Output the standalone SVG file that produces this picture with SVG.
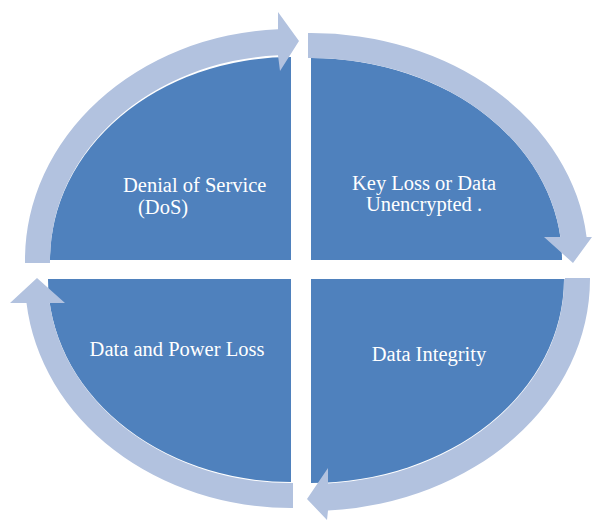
<svg xmlns="http://www.w3.org/2000/svg" width="592" height="522" viewBox="0 0 592 522">
<style>
.q{fill:#4F81BD}
.a{fill:#B2C2DF}
.t{fill:#FFFFFF;font-size:20.5px}
</style>
<rect width="592" height="522" fill="#FFFFFF"/>
<g id="node-dos">
<path class="q" d="M291,260 L50,260 A241 203 0 0 1 291,57 Z"/>
<text class="t" font-family="'Liberation Serif', 'DejaVu Serif', serif" x="123" y="192">Denial of Service</text>
<text class="t" font-family="'Liberation Serif', 'DejaVu Serif', serif" x="138" y="214">(DoS)</text>
</g>
<g id="node-keyloss">
<path class="q" d="M311,260 L311,58 A251 202 0 0 1 562,260 Z"/>
<text class="t" font-family="'Liberation Serif', 'DejaVu Serif', serif" x="424" y="190" text-anchor="middle">Key Loss or Data</text>
<text class="t" font-family="'Liberation Serif', 'DejaVu Serif', serif" x="424" y="211" text-anchor="middle">Unencrypted .</text>
</g>
<g id="node-integrity">
<path class="q" d="M311,279 L564,279 A253 204 0 0 1 311,483 Z"/>
<text class="t" font-family="'Liberation Serif', 'DejaVu Serif', serif" x="429" y="361" text-anchor="middle">Data Integrity</text>
</g>
<g id="node-power">
<path class="q" d="M291,279 L291,482 A243 203 0 0 1 48,279 Z"/>
<text class="t" font-family="'Liberation Serif', 'DejaVu Serif', serif" x="177" y="356" text-anchor="middle">Data and Power Loss</text>
</g>
<g id="connectors">
<path class="a" d="M25,263 L25,260 A266 231 0 0 1 278,29.3 L278,12 L299,41 L280,71 L278,55.3 A241 205 0 0 0 50,260 L50,263 Z"/>
<path class="a" d="M308,33 A277 227 0 0 1 586.6,237 L592,237 L573,263 L544,237 L560.4,237 A251 202 0 0 0 308,58 Z"/>
<path class="a" d="M565,278 L590,278 L590,279 A279 232 0 0 1 328,510.6 L327,520 L307,499 L328,468 L328,483.5 A253 204 0 0 0 564,279 L565,279 Z"/>
<path class="a" d="M293,483 L293,508 A266 229 0 0 1 26.5,303 L10,303 L37,278 L65,303 L49.7,303 A243 204 0 0 0 293,483 Z"/>
</g>
</svg>
